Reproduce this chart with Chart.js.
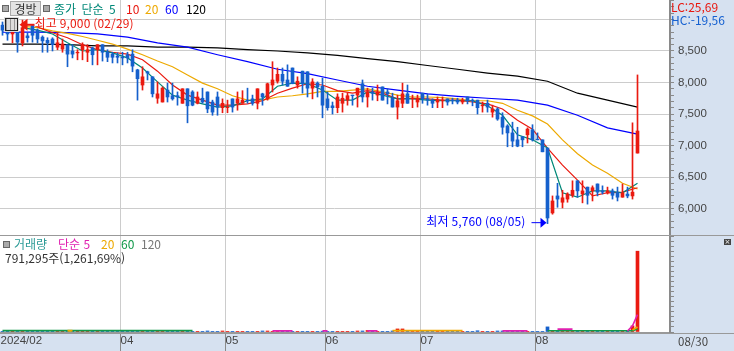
<!DOCTYPE html>
<html lang="ko">
<head>
<meta charset="utf-8">
<title>경방</title>
<script src="https://cdn.jsdelivr.net/npm/chart.js@4"></script>
<style>
  html, body { margin: 0; padding: 0; }
  body { width: 734px; height: 351px; overflow: hidden; position: relative; background: #d6e1f0;
         font: 12px "Noto Sans CJK KR", "Noto Sans", sans-serif; }
  .abs { position: absolute; white-space: nowrap; line-height: 14px; }
  canvas { position: absolute; left: 0; }
  #plotWhite { position: absolute; left: 0; top: 0; width: 670px; height: 333px; background: #fff; }
  .sep { position: absolute; left: 0; width: 734px; height: 1px; background: #999; }
  .sq { position: absolute; width: 5px; height: 5px; background: #aaa; border: 1px solid #666; }
  #btn { left: 10px; top: 1px; width: 29px; height: 13px; background: #e4e4e4; border: 1px solid #aaa; text-align: center; color: #333; }
  #icon { position: absolute; left: 5px; top: 18px; width: 11px; height: 11px; border: 1px solid #222; outline: 1px solid #ddd;
          background: repeating-linear-gradient(90deg, #999 0 1px, #ddd 1px 4px); }
  #closeBox { position: absolute; left: 724px; top: 239px; width: 7px; height: 6px; background: #444; color: #fff;
              font: 7px/6px "DejaVu Sans"; text-align: center; }
</style>
</head>
<body>
<div id="plotWhite"></div>
<canvas id="priceChart" width="734" height="235" style="top:0"></canvas>
<canvas id="volumeChart" width="734" height="115" style="top:236px"></canvas>
<div class="sep" style="top:235px"></div>
<div class="sep" style="top:333px"></div>

<div class="sq" style="left:2px;top:5px"></div>
<div class="abs" id="btn">경방</div>
<div class="sq" style="left:43px;top:5px"></div>
<div class="abs" style="left:54px;top:2px;color:#008878;word-spacing:2px">종가 단순 5</div>
<div class="abs" style="left:126px;top:2px;color:#e8170f">10</div>
<div class="abs" style="left:145px;top:2px;color:#eda900">20</div>
<div class="abs" style="left:165px;top:2px;color:#0000ff">60</div>
<div class="abs" style="left:186px;top:2px;color:#000">120</div>
<div id="icon"></div>
<div class="abs" style="left:671px;top:0;color:#e8170f">LC:25,69</div>
<div class="abs" style="left:671px;top:13px;color:#1560d0">HC:-19,56</div>

<div class="sq" style="left:3px;top:241px"></div>
<div class="abs" style="left:14px;top:237px;color:#2a9a96">거래량</div>
<div class="abs" style="left:58px;top:237px;color:#e020b0">단순 5</div>
<div class="abs" style="left:101px;top:237px;color:#eda900">20</div>
<div class="abs" style="left:121px;top:237px;color:#109848">60</div>
<div class="abs" style="left:141px;top:237px;color:#777">120</div>
<div class="abs" style="left:5px;top:251px;color:#333">791,295주(1,261,69%)</div>
<div id="closeBox">×</div>
<div class="abs" style="left:678px;top:334px;color:#444;font-size:11.5px">08/30</div>

<script>
// trading days, last six slots are the empty room on the right of the chart
const categories = [
  '02/26','02/27','02/28','02/29',
  '03/04','03/05','03/06','03/07','03/08','03/11','03/12','03/13','03/14','03/15','03/18','03/19','03/20','03/21','03/22','03/25','03/26','03/27','03/28','03/29',
  '04/01','04/02','04/03','04/04','04/05','04/08','04/09','04/11','04/12','04/15','04/16','04/17','04/18','04/19','04/22','04/23','04/24','04/25','04/26','04/29','04/30',
  '05/02','05/03','05/07','05/08','05/09','05/10','05/13','05/14','05/16','05/17','05/20','05/21','05/22','05/23','05/24','05/27','05/28','05/29','05/30','05/31',
  '06/03','06/04','06/05','06/07','06/10','06/11','06/12','06/13','06/14','06/17','06/18','06/19','06/20','06/21','06/24','06/25','06/26','06/27','06/28',
  '07/01','07/02','07/03','07/04','07/05','07/08','07/09','07/10','07/11','07/12','07/15','07/16','07/17','07/18','07/19','07/22','07/23','07/24','07/25','07/26','07/29','07/30','07/31',
  '08/01','08/02','08/05','08/06','08/07','08/08','08/09','08/12','08/13','08/14','08/16','08/19','08/20','08/21','08/22','08/23','08/26','08/27','08/28','08/29','08/30',
  '09/02','09/03','09/04','09/05','09/06','09/09'
];
const tickDates = ['02/26','04/01','05/02','06/03','07/01','08/01'];
const tickLabels = ['2024/02','04','05','06','07','08'];

const openPrice = [
  8910,8880,8770,8800,8630,8740,8900,8830,8720,8670,
  8690,8560,8530,8600,8500,8470,8520,8480,8550,8520,
  8600,8480,8450,8420,8400,8440,8450,8200,7960,8170,
  8090,7750,7690,7880,7790,7790,7670,7900,7850,7670,
  7750,7850,7690,7770,7600,7600,7740,7670,7670,7720,
  7740,7670,7820,7740,7960,8020,8130,8040,8230,7960,
  8180,8170,7910,7990,7940,7740,7630,7600,7670,7720,
  7800,7800,7980,7770,7850,7800,7930,7850,7750,7610,
  7670,7820,7740,7690,7830,7740,7720,7690,7710,7740,
  7720,7720,7690,7770,7720,7720,7630,7670,7530,7580,
  7450,7310,7200,7090,7140,7170,7250,7100,7090,6960,
  5930,6200,6100,6150,6210,6440,6230,6340,6280,6390,
  6280,6250,6280,6250,6180,6230,6200,6880
];
const highPrice = [
  8960,8930,8900,9000,8990,8790,8920,8850,8740,8710,
  8710,8790,8690,8600,8600,8520,8630,8600,8560,8600,
  8600,8520,8480,8470,8480,8480,8520,8210,8250,8180,
  8090,8010,7930,7990,7990,7850,7900,7900,7870,7850,
  7910,7850,7720,7850,7740,7720,7740,7850,7870,7910,
  7800,7900,7830,7990,8330,8230,8230,8280,8230,8090,
  8180,8170,8060,8010,8070,7850,7690,7820,7830,7830,
  7800,7910,8040,7910,7910,7960,7930,7900,7830,7800,
  7990,7960,7800,7800,7830,7820,7740,7770,7770,7740,
  7750,7750,7750,7770,7740,7720,7690,7720,7640,7600,
  7520,7330,7370,7290,7140,7280,7330,7200,7090,6960,
  6200,6400,6290,6250,6440,6440,6440,6340,6360,6390,
  6360,6340,6310,6340,6390,6340,7360,8120
];
const lowPrice = [
  8750,8670,8630,8480,8580,8640,8640,8630,8480,8480,
  8500,8520,8480,8250,8390,8360,8360,8330,8280,8280,
  8340,8330,8310,8310,8280,8310,8170,7720,7880,8040,
  7770,7670,7690,7690,7720,7640,7670,7360,7630,7660,
  7670,7520,7480,7480,7520,7520,7530,7560,7670,7670,
  7640,7580,7640,7720,7850,7990,7960,7940,7980,7910,
  7830,7770,7740,7770,7440,7560,7500,7520,7530,7640,
  7640,7610,7690,7610,7720,7710,7720,7660,7610,7420,
  7600,7670,7600,7610,7670,7640,7600,7600,7600,7640,
  7660,7660,7660,7660,7630,7500,7530,7530,7450,7400,
  7180,6980,6980,6980,6980,7040,7070,7090,6900,5760,
  5910,6020,6010,6100,6180,6180,6090,6070,6120,6200,
  6230,6230,6150,6120,6180,6170,6150,6880
];
const closePrice = [
  8830,8770,8830,8640,8870,8710,8750,8690,8660,8630,
  8600,8630,8610,8450,8450,8480,8600,8520,8440,8600,
  8480,8400,8400,8400,8390,8390,8260,8060,8090,8150,
  7820,7820,7910,7770,7740,7770,7900,7630,7640,7770,
  7690,7580,7530,7610,7670,7610,7610,7740,7720,7710,
  7670,7900,7770,7980,8040,8130,8020,7940,7980,8020,
  7980,7910,8010,7930,7640,7600,7600,7770,7750,7790,
  7790,7910,7770,7850,7830,7850,7720,7820,7610,7710,
  7820,7670,7750,7750,7740,7720,7670,7720,7720,7690,
  7710,7690,7720,7710,7710,7600,7640,7610,7580,7420,
  7290,7200,7070,6990,7090,7260,7090,7090,6900,5850,
  6120,6150,6170,6230,6290,6280,6280,6210,6330,6260,
  6260,6280,6210,6180,6250,6200,6260,7230
];

// moving averages: every 3rd slot for the short ones, every 6th for the long ones
const ma5 = [8870,8830,8770,8630,8500,8520,8470,8390,8230,8010,7800,7720,7660,7610,7630,7710,7740,7940,7990,7980,7880,7720,7720,7850,7800,7740,7740,7720,7710,7710,7710,7630,7480,7170,7090,6960,6250,6180,6280,6280,6250,6400];
const ma10 = [8880,8790,8710,8600,8520,8480,8450,8360,8180,7960,7800,7720,7640,7640,7660,7710,7830,7910,7980,7960,7870,7830,7870,7830,7740,7750,7740,7720,7720,7690,7660,7580,7400,7260,6960,6690,6450,6200,6250,6260,6330];
const ma20 = [8890,8870,8820,8780,8730,8670,8610,8530,8440,8340,8250,8120,7990,7900,7790,7720,7720,7770,7790,7820,7860,7860,7880,7900,7850,7800,7770,7770,7760,7740,7710,7710,7670,7560,7470,7340,7090,6870,6690,6560,6400,6310];
const ma60 = [8800,8800,8790,8770,8720,8630,8560,8440,8330,8210,8140,8040,7940,7880,7820,7780,7750,7720,7640,7480,7280,7180];
const ma120 = [8610,8610,8600,8580,8580,8560,8560,8550,8520,8500,8470,8430,8380,8330,8270,8210,8150,8100,8020,7830,7720,7610];
const ma60First = 8800, ma120First = 8610; // value on the very first slot

// ordinary days stay under one pixel on this scale
const volume = [
  1500,1000,2000,2000,1500,1000,1500,1000,1000,1500,
  1000,1500,1000,2000,1000,1000,1500,1000,1000,1000,
  1500,1000,1000,1000,1500,1000,2000,2000,1500,1000,
  1500,1000,1500,1000,1000,1000,1500,2000,1000,1000,
  1000,10000,1500,1000,10000,1000,1000,1500,1000,1000,
  1000,1500,10000,10000,2000,2000,2000,2000,1500,1000,
  2000,1500,1000,1000,8000,1500,1500,2000,1000,1000,
  1500,10000,10000,15000,1500,1500,2000,1000,10000,30000,
  30000,2000,1500,2000,1500,1000,1000,1500,1000,1000,
  1000,1000,1500,1000,1000,12000,1000,1500,1000,10000,
  10000,2000,1500,1000,1500,1000,1000,1500,2000,50000,
  2500,2000,2000,2000,2000,1500,1500,1000,1500,1000,
  1000,1500,1000,1500,1000,2000,60000,791295
];
const volMa5Slots = [54,58,59,64,65,66,73,75,76,100,105,106,111,114,115,125,126,127];
const volMa5 = [11000,11000,null,11000,11000,null,11000,11000,null,11000,11000,null,28000,28000,null,10000,60000,170000];
const volMa20Slots = [13,14,15,78,92,93,126,127];
const volMa20 = [12000,12000,null,13000,13000,null,20000,50000];
const volMa60Slots = [0,38,39,109,126,127];
const volMa60 = [13000,13000,null,12000,12000,30000];

const tickFont = { family: '"Liberation Sans", sans-serif', size: 11.5 };
const red = '#ea1a10', blue = '#1560cc';
const candleColors = openPrice.map((o, i) => closePrice[i] >= o ? red : blue);

// sparse readings -> points on the category axis
const readings = (values, firstSlot, step) =>
  values.map((y, k) => ({ x: categories[firstSlot + k * step], y }));
const slotPoints = (slots, values) =>
  slots.map((s, k) => ({ x: categories[s], y: values[k] }));

const lineSet = (data, color, width, order) => ({
  type: 'line', data, borderColor: color, borderWidth: width,
  pointRadius: 0, tension: 0, order, spanGaps: false
});

function xAxis(showLabels) {
  return {
    type: 'category', offset: true, position: 'bottom',
    border: { display: false },
    grid: {
      offset: true, drawTicks: showLabels, tickLength: 19,
      color: ctx => tickDates.includes(categories[ctx.index]) && ctx.index > 0 ? '#cccccc' : 'rgba(0,0,0,0)',
      tickColor: ctx => tickDates.includes(categories[ctx.index]) && ctx.index > 0 ? '#8a8a8a' : 'rgba(0,0,0,0)'
    },
    ticks: {
      display: showLabels, autoSkip: false, maxRotation: 0, minRotation: 0, align: 'start',
      padding: -17, labelOffset: -2, color: '#444', font: tickFont,
      callback: function (v) {
        const at = tickDates.indexOf(categories[v]);
        return at < 0 ? '' : tickLabels[at];
      }
    },
    afterFit: s => { s.height = showLabels ? 19 : 0; }
  };
}

function yAxis(min, max, step, labelStep, fmtFrom, fmtTo) {
  const isMajor = v => v % labelStep === 0;
  return {
    position: 'right', min, max,
    border: { color: '#8a8a8a', width: 2 },
    grid: {
      tickLength: 4,
      color: ctx => ctx.tick.value === 0 ? '#999' : isMajor(ctx.tick.value) ? '#cccccc' : 'rgba(0,0,0,0)',
      tickColor: '#8a8a8a'
    },
    ticks: {
      stepSize: step, autoSkip: false, padding: 4, color: '#444', font: tickFont,
      callback: v => isMajor(v) && v >= fmtFrom && v <= fmtTo ? v.toLocaleString('en-US') : ''
    },
    // the label half-heights must not squeeze the plot, it runs edge to edge
    afterFit: s => { s.width = 64; s.paddingTop = 0; s.paddingBottom = 0; }
  };
}

const baseOptions = {
  responsive: false, animation: false, events: [],
  layout: { padding: 0, autoPadding: false },
  plugins: { legend: { display: false }, tooltip: { enabled: false } }
};

// high and low captions, pinned to the candle they talk about
const captions = {
  id: 'captions',
  afterDatasetsDraw(chart) {
    const { ctx, scales: { x, y } } = chart;
    const hi = x.getPixelForValue(categories.indexOf('02/29'));
    const lo = x.getPixelForValue(categories.indexOf('08/05'));
    const hiY = y.getPixelForValue(8900), loY = y.getPixelForValue(5760);
    ctx.save();
    ctx.font = '12px "Noto Sans CJK KR", sans-serif';
    ctx.letterSpacing = '0.15px';
    ctx.textBaseline = 'middle';
    ctx.fillStyle = '#ea1a10';
    ctx.strokeStyle = '#ea1a10';
    ctx.fillText('최고 9,000 (02/29)', hi + 17, hiY - 2);
    ctx.lineWidth = 2;
    ctx.beginPath(); ctx.moveTo(hi + 17, hiY - 1); ctx.lineTo(hi + 7, hiY - 1); ctx.stroke();
    ctx.beginPath(); ctx.moveTo(hi + 2, hiY - 1); ctx.lineTo(hi + 10, hiY - 7); ctx.lineTo(hi + 10, hiY + 5); ctx.fill();
    ctx.fillStyle = '#0000ff';
    ctx.strokeStyle = '#0000ff';
    ctx.textAlign = 'right';
    ctx.fillText('최저 5,760 (08/05)', lo - 22, loY - 2);
    ctx.lineWidth = 1;
    ctx.beginPath(); ctx.moveTo(lo - 16, loY - 1); ctx.lineTo(lo - 6, loY - 1); ctx.stroke();
    ctx.beginPath(); ctx.moveTo(lo - 1, loY - 1); ctx.lineTo(lo - 7, loY - 6); ctx.lineTo(lo - 7, loY + 4); ctx.fill();
    ctx.restore();
  }
};

new Chart(document.getElementById('priceChart'), {
  type: 'bar',
  plugins: [captions],
  data: {
    labels: categories,
    datasets: [
      { data: openPrice.map((o, i) => [o, closePrice[i]]), backgroundColor: candleColors, barThickness: 3, grouped: false, order: 1 },
      { data: lowPrice.map((l, i) => [l, highPrice[i]]), backgroundColor: candleColors, barThickness: 1, grouped: false, order: 2 },
      lineSet(readings(ma5, 4, 3), '#008878', 1.2, 3),
      lineSet(readings(ma10, 7, 3), '#ea1a10', 1.2, 4),
      lineSet(readings(ma20, 4, 3), '#eda900', 1.2, 5),
      lineSet([{ x: categories[0], y: ma60First }, ...readings(ma60, 1, 6)], '#0000ff', 1.2, 6),
      lineSet([{ x: categories[0], y: ma120First }, ...readings(ma120, 1, 6)], '#000000', 1.2, 7)
    ]
  },
  options: {
    ...baseOptions,
    scales: { x: xAxis(false), y: yAxis(5580, 9309, 100, 500, 6000, 8500) }
  }
});

new Chart(document.getElementById('volumeChart'), {
  type: 'bar',
  data: {
    labels: categories,
    datasets: [
      { data: volume, backgroundColor: candleColors, barThickness: 3, order: 4 },
      lineSet(slotPoints(volMa60Slots, volMa60), '#109848', 1.6, 3),
      lineSet(slotPoints(volMa20Slots, volMa20), '#eda900', 1.8, 2),
      lineSet(slotPoints(volMa5Slots, volMa5), '#e020b0', 1.6, 1)
    ]
  },
  options: {
    ...baseOptions,
    scales: { x: xAxis(true), y: yAxis(0, 940000, 50000, 250000, 250000, 750000) }
  }
});
</script>
</body>
</html>
